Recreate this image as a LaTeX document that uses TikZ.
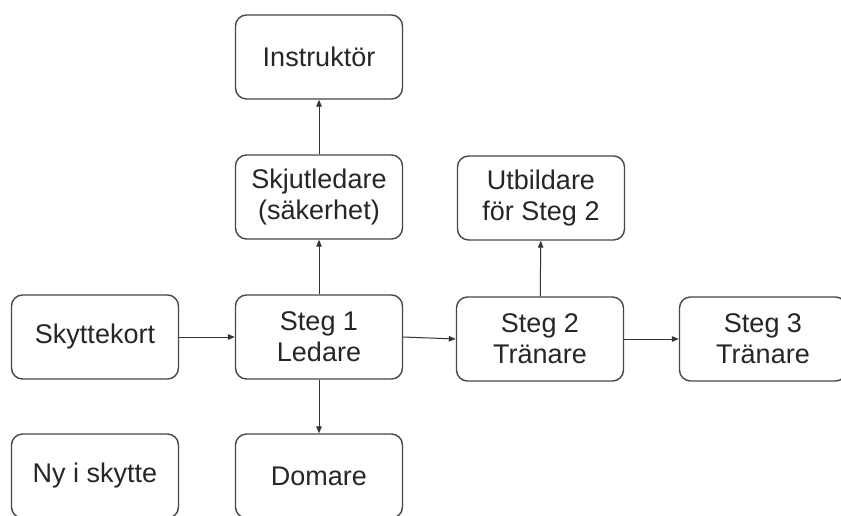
\documentclass[tikz,border=0pt]{standalone}
\usepackage{fontspec}
\setmainfont{Liberation Sans}
\usetikzlibrary{arrows.meta}
\definecolor{boxline}{HTML}{474747}
\definecolor{txt}{HTML}{262626}
\definecolor{conn}{HTML}{333333}
\tikzset{
  box/.style={draw=boxline, line width=1.4pt, rounded corners=11pt, minimum width=167pt, minimum height=84pt, align=center, text=txt, font=\fontsize{27}{31}\selectfont, inner sep=0pt},
  conn/.style={draw=conn, line width=1pt, -{Triangle[length=7pt,width=5.5pt]}}
}
\begin{document}
\begin{tikzpicture}[x=1pt,y=-1pt]
\useasboundingbox (0,0) rectangle (841,515);
\fill[white] (0,0) rectangle (841,515);
\begin{scope}
\clip (0,0) rectangle (841,515);
\node[box] (ins) at (319,57) {Instruktör};
\node[box] (skj) at (319,197) {Skjutledare\\(säkerhet)};
\node[box] (utb) at (541,198) {Utbildare\\för Steg 2};
\node[box] (sky) at (95,337) {Skyttekort};
\node[box] (s1) at (319,337) {Steg 1\\Ledare};
\node[box] (s2) at (540,339) {Steg 2\\Tränare};
\node[box] (s3) at (763,339) {Steg 3\\Tränare};
\node[box] (ny) at (95,476) {Ny i skytte};
\node[box] (dom) at (319,476) {Domare};
\end{scope}
\draw[conn] (sky) -- (s1);
\draw[conn] (s1.east) -- (s2.west);
\draw[conn] (s2) -- (s3);
\draw[conn] (s1) -- (skj);
\draw[conn] (skj) -- (ins);
\draw[conn] (s2) -- (utb);
\draw[conn] (s1) -- (dom);
\end{tikzpicture}
\end{document}
